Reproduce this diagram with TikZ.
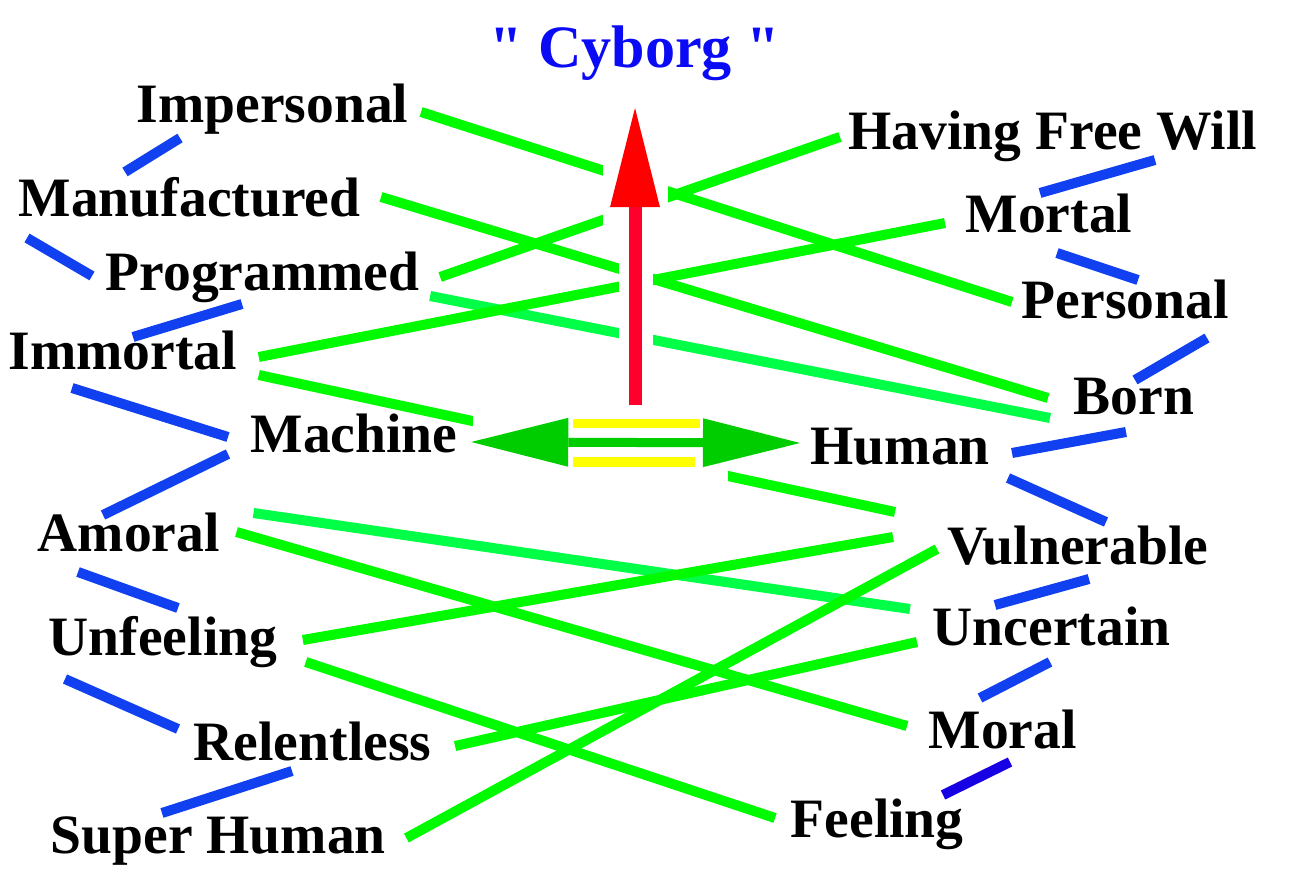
\documentclass[tikz,border=0pt]{standalone}
\usepackage{fontspec}
\setmainfont{Liberation Serif}
\usepackage{tikz}
\usetikzlibrary{arrows.meta}
\definecolor{lnblue}{RGB}{16,64,240}
\definecolor{lndarkblue}{RGB}{24,0,228}
\definecolor{lngreen}{RGB}{0,250,0}
\definecolor{lnmint}{RGB}{0,255,70}
\definecolor{arrowgreen}{RGB}{0,205,0}
\definecolor{barsyellow}{RGB}{255,255,0}
\definecolor{shaftred}{RGB}{255,0,45}
\definecolor{headred}{RGB}{255,0,0}
\definecolor{titleblue}{RGB}{10,10,245}
\newcommand{\wordfont}{\fontsize{15.8}{19}\selectfont\bfseries}
\newcommand{\titlefont}{\fontsize{17.1}{20}\selectfont\bfseries}

\begin{document}
\begin{tikzpicture}[x=0.01cm, y=-0.01cm,
    word/.style={anchor=base west, inner sep=0pt, font=\wordfont},
    title/.style={anchor=base, inner sep=0pt, font=\titlefont, text=titleblue},
    link/.style={line width=2.85pt}]
  \useasboundingbox (0,0) rectangle (1304,883);
  % Title
  \node[title] (cyborg) at (635,68) {\textquotedbl{} Cyborg \textquotedbl};
  % Left words
  \node[word] (imp)  at (136,123) {Impersonal};
  \node[word] (man)  at (18,217)  {Manufactured};
  \node[word] (prog) at (105,291) {Programmed};
  \node[word] (immo) at (8,370)   {Immortal};
  \node[word] (mach) at (250,453) {Machine};
  \node[word] (amor) at (37,552)  {Amoral};
  \node[word] (unf)  at (48,655)  {Unfeeling};
  \node[word] (rel)  at (193,760) {Relentless};
  \node[word] (sup)  at (50,853)  {Super Human};
  % Right words
  \node[word] (hfw)  at (848,150) {Having Free Will};
  \node[word] (mort) at (965,233) {Mortal};
  \node[word] (pers) at (1021,319){Personal};
  \node[word] (born) at (1073,415){Born};
  \node[word] (hum)  at (810,465) {Human};
  \node[word] (vuln) at (947,565) {Vulnerable};
  \node[word] (unc)  at (932,645) {Uncertain};
  \node[word] (mor)  at (928,748) {Moral};
  \node[word] (feel) at (790,837) {Feeling};
  % Opposites
  \foreach \na/\xa/\ya/\nb/\xb/\yb/\c in {imp/12/-11/pers/-9/-17/lngreen,
      prog/20/-14/hfw/-8/-13/lngreen, man/20/-20/born/-25/-17/lngreen,
      prog/10/5/born/-23/3/lnmint, immo/21/-13/mort/-20/-10/lngreen,
      immo/21/5/vuln/-52/-53/lngreen, amor/33/-39/unc/-22/-36/lnmint,
      amor/16/-20/mor/-21/-22/lngreen, unf/25/-15/vuln/-54/-28/lngreen,
      unf/28/7/feel/-15/-19/lngreen, rel/23/-14/unc/-15/-3/lngreen,
      sup/20/-15/vuln/-10/-16/lngreen}{
    \draw[link, \c] ([shift={(\xa,\ya)}]\na.base east) -- ([shift={(\xb,\yb)}]\nb.base west);
  }
  % Chains down each side
  \foreach \na/\xa/\ya/\nb/\xb/\yb/\c in {man/107/-45/imp/44/15/lnblue,
      man/9/21/prog/-13/-15/lnblue, prog/137/13/immo/125/-33/lnblue,
      immo/64/18/mach/-22/-16/lnblue, mach/-22/1/amor/66/-37/lnblue,
      amor/41/20/unf/130/-47/lnblue, unf/17/24/rel/-15/-31/lnblue,
      rel/99/11/sup/112/-40/lnblue, hfw/307/10/mort/75/-40/lnblue,
      mort/92/20/pers/117/-39/lnblue, pers/186/19/born/62/-35/lnblue,
      born/53/17/hum/202/-12/lnblue, hum/198/13/vuln/159/-43/lnblue,
      vuln/142/14/unc/63/-40/lnblue, unc/118/17/mor/52/-50/lnblue,
      mor/82/14/feel/153/-42/lndarkblue}{
    \draw[link, \c] ([shift={(\xa,\ya)}]\na.base west) -- ([shift={(\xb,\yb)}]\nb.base west);
  }
  % Gaps round the arrows
  \fill[white] (603,100) rectangle (668,226);
  \fill[white] (619,226) rectangle (653,410);
  \fill[white] (473,405) rectangle (728,482);
  % Machine <-> Human
  \coordinate (dl) at ([shift={(13,-11)}]mach.base east);
  \coordinate (dr) at ([shift={(-10,-22)}]hum.base west);
  \draw[line width=2.56pt, arrowgreen,
    arrows={Triangle[length=27.6pt, width=13.9pt, line width=0pt]-Triangle[length=27.6pt, width=13.9pt, line width=0pt]}]
    (dl) -- (dr);
  \fill[barsyellow] (573,419) rectangle (700,428);
  \fill[barsyellow] (573,457) rectangle (695,467);
  % Rising arrow
  \coordinate (rbase) at (635,405);
  \coordinate (rtip) at ([shift={(0,40)}]cyborg.base);
  \draw[line width=3.7pt, shaftred,
    arrows={-Triangle[length=28.2pt, width=14.2pt, line width=0pt, color=headred]}]
    (rbase) -- (rtip);
\end{tikzpicture}
\end{document}
